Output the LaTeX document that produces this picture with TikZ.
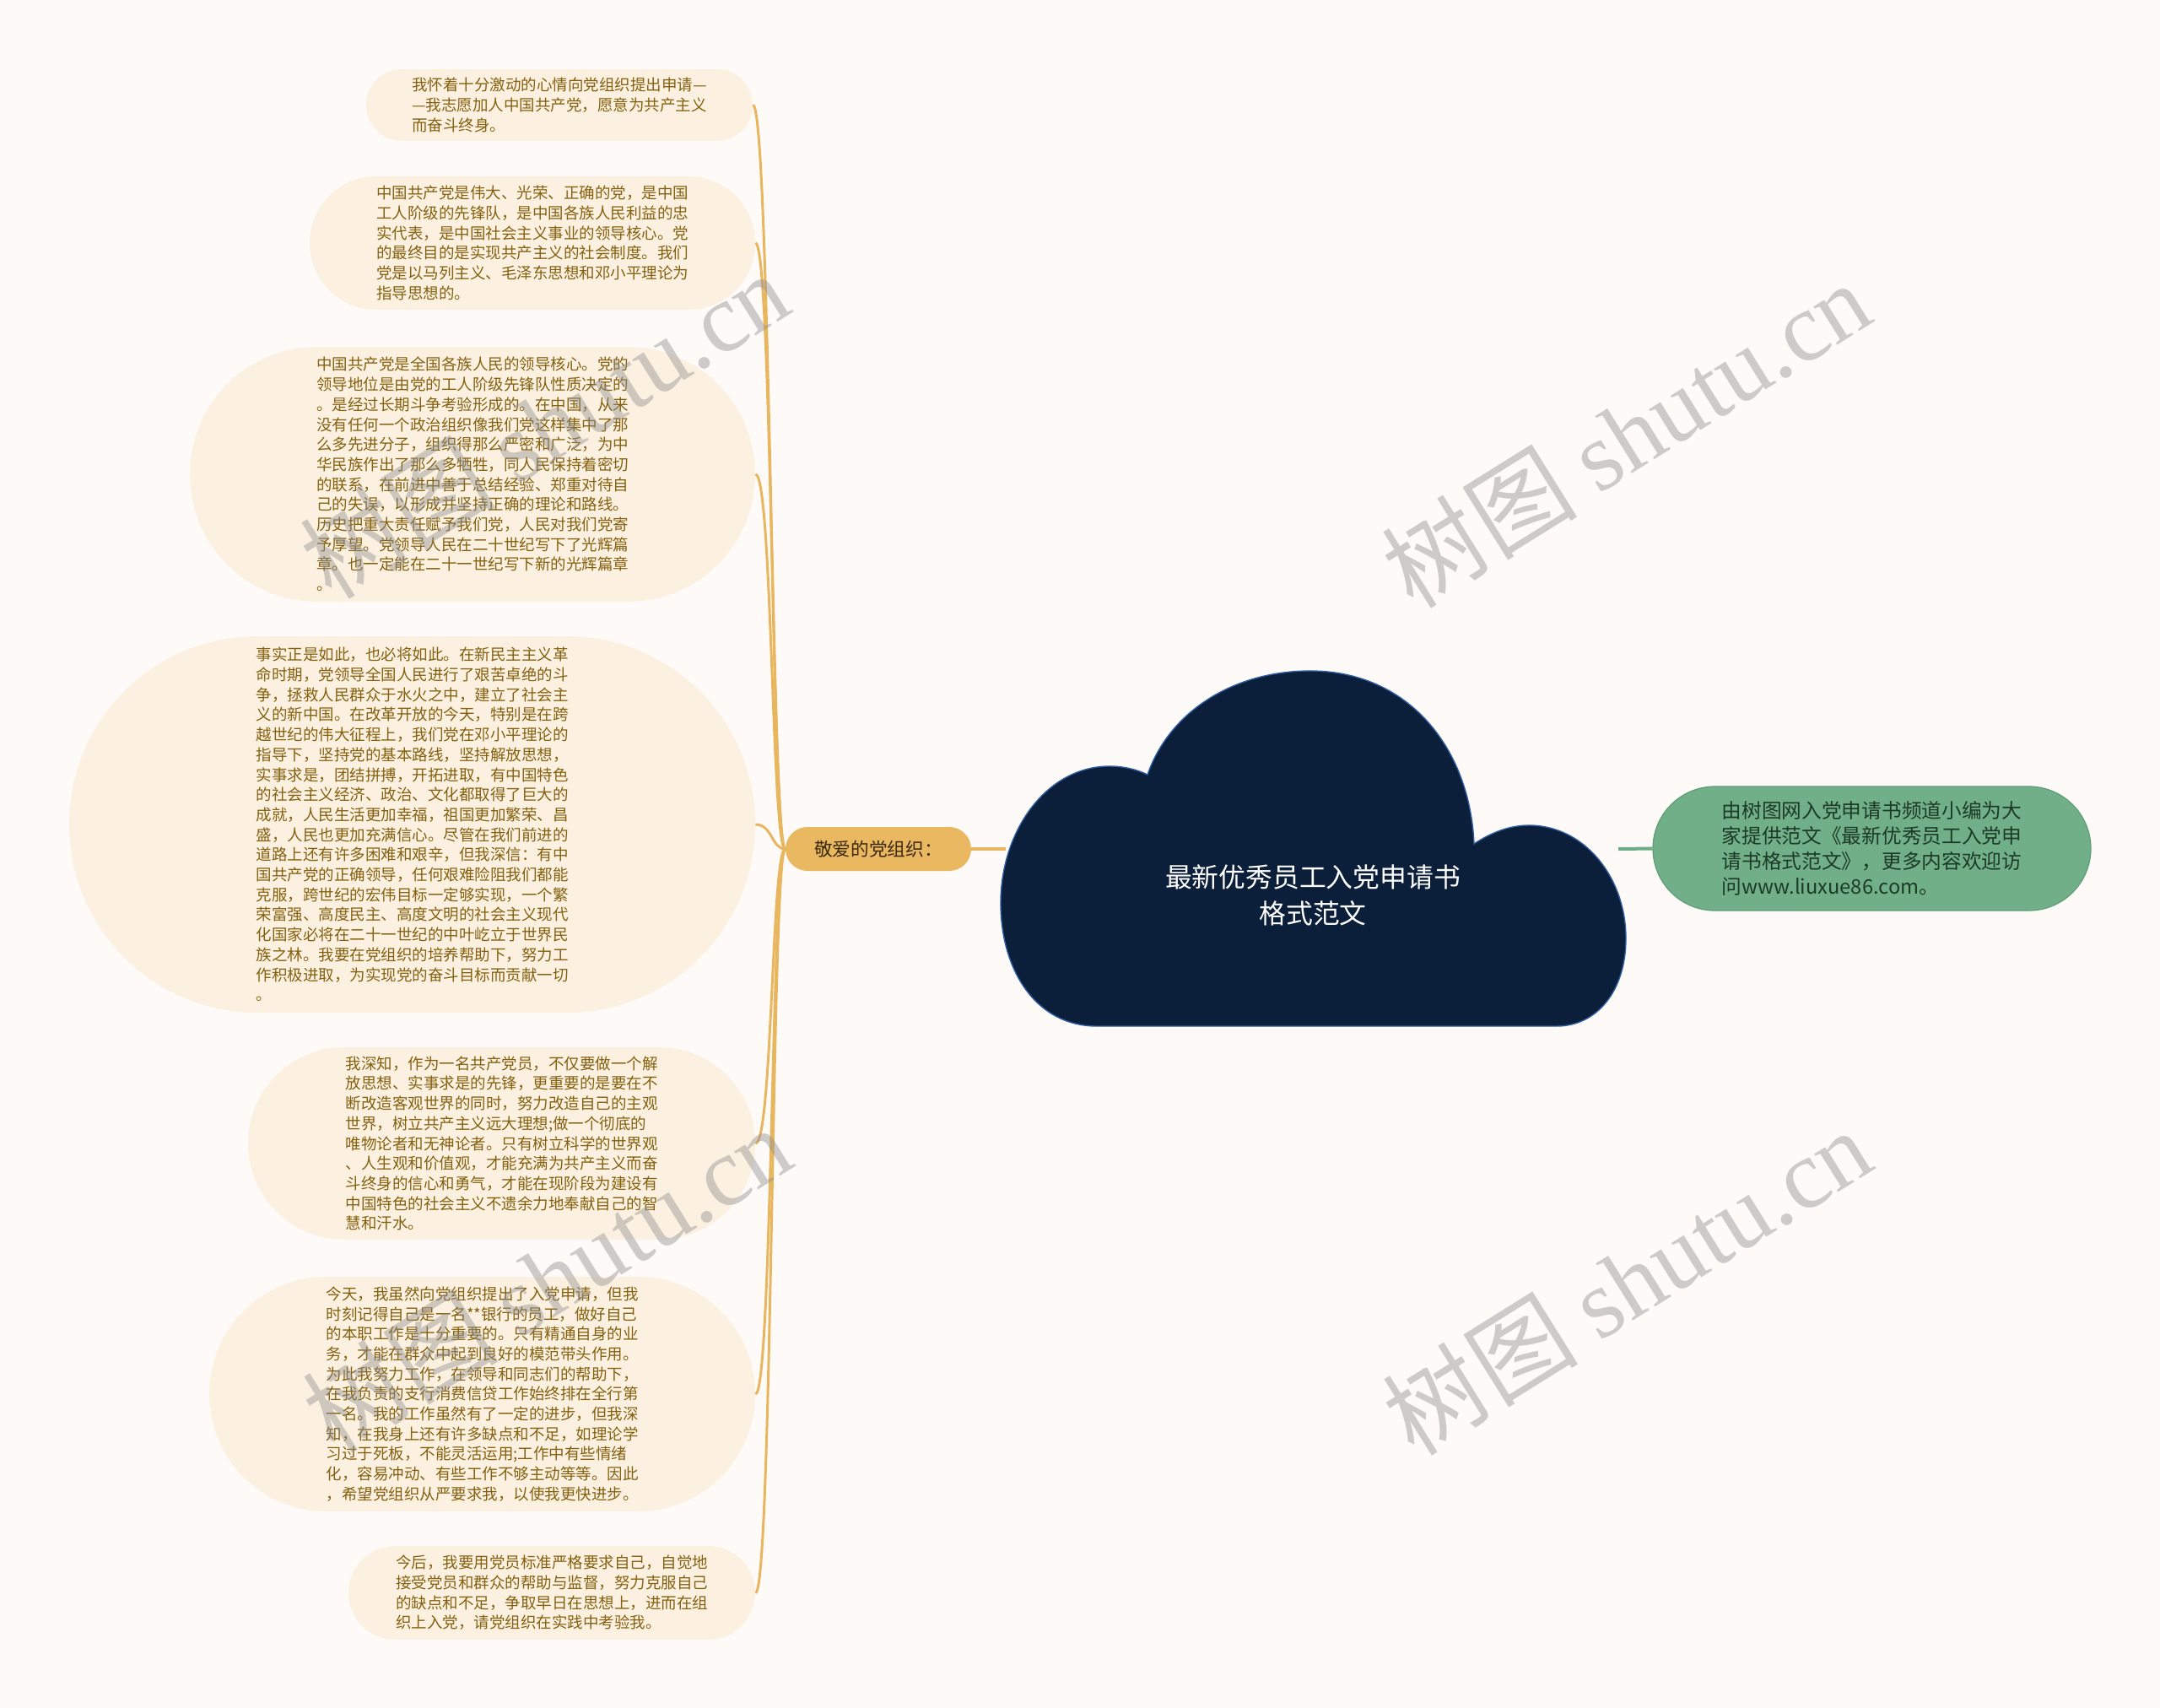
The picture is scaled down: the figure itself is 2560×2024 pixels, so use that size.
\documentclass[tikz,border=0pt]{standalone}
\usepackage{fontspec}
\setmainfont{Noto Sans CJK SC}
\newfontfamily\wmserif{Liberation Serif}
\usetikzlibrary{shapes.misc}
\definecolor{bg}{HTML}{FDFAF8}
\definecolor{leaffill}{HTML}{FCF1E1}
\definecolor{leaftext}{HTML}{84600F}
\definecolor{linkcol}{HTML}{E9B660}
\definecolor{branchfill}{HTML}{EBB862}
\definecolor{branchtext}{HTML}{3A2A0C}
\definecolor{cloudfill}{HTML}{0B1F3B}
\definecolor{cloudedge}{HTML}{2E5C9E}
\definecolor{greenfill}{HTML}{70AF87}
\definecolor{greenedge}{HTML}{5E9E76}
\definecolor{greentext}{HTML}{1D3A27}
\definecolor{greenlink}{HTML}{6EAC84}
\begin{document}
\begin{tikzpicture}[x=0.5pt,y=-0.5pt,
  leaf/.style={rounded rectangle, fill=leaffill, inner xsep=0pt, inner ysep=0pt,
    text=leaftext, align=left, font=\fontsize{9.25pt}{11.85pt}\selectfont},
  branchbox/.style={rounded rectangle, fill=branchfill, inner xsep=0pt, inner ysep=0pt,
    text=branchtext, minimum width=110pt, minimum height=26pt,
    font=\fontsize{10.85pt}{13pt}\selectfont},
  notebox/.style={rounded rectangle, fill=greenfill, draw=greenedge, line width=0.6pt,
    inner xsep=0pt, inner ysep=0pt, text=greentext, align=left,
    minimum width=259.5pt, minimum height=73.5pt,
    font=\fontsize{11.85pt}{15pt}\selectfont},
  titletext/.style={text=white, align=center, inner sep=0pt,
    font=\fontsize{15.9pt}{21.2pt}\selectfont},
  leaflink/.style={draw=linkcol, line width=1.5pt},
  mainlink/.style={draw=linkcol, line width=2pt},
  notelink/.style={draw=greenlink, line width=2pt},
  wmark/.style={text=black!45, text opacity=0.42, inner sep=0pt, rotate=32,
    font=\fontsize{58pt}{58pt}\selectfont}
]
\useasboundingbox (0,0) rectangle (2560,2024);
\fill[bg] (0,0) rectangle (2560,2024);

% leaves
\node[leaf, minimum width=229pt, minimum height=42.5pt] (l1) at (663,124.5)
{我怀着十分激动的心情向党组织提出申请—\\—我志愿加人中国共产党，愿意为共产主义\\而奋斗终身。};

\node[leaf, minimum width=264pt, minimum height=79pt] (l2) at (631,288)
{中国共产党是伟大、光荣、正确的党，是中国\\工人阶级的先锋队，是中国各族人民利益的忠\\实代表，是中国社会主义事业的领导核心。党\\的最终目的是实现共产主义的社会制度。我们\\党是以马列主义、毛泽东思想和邓小平理论为\\指导思想的。};

\node[leaf, minimum width=335pt, minimum height=151pt] (l3) at (560,562)
{中国共产党是全国各族人民的领导核心。党的\\领导地位是由党的工人阶级先锋队性质决定的\\。是经过长期斗争考验形成的。在中国，从来\\没有任何一个政治组织像我们党这样集中了那\\么多先进分子，组织得那么严密和广泛，为中\\华民族作出了那么多牺牲，同人民保持着密切\\的联系，在前进中善于总结经验、郑重对待自\\己的失误，以形成并坚持正确的理论和路线。\\历史把重大责任赋予我们党，人民对我们党寄\\予厚望。党领导人民在二十世纪写下了光辉篇\\章。也一定能在二十一世纪写下新的光辉篇章\\。};

\node[leaf, minimum width=406.5pt, minimum height=223pt] (l4) at (488.5,977)
{事实正是如此，也必将如此。在新民主主义革\\命时期，党领导全国人民进行了艰苦卓绝的斗\\争，拯救人民群众于水火之中，建立了社会主\\义的新中国。在改革开放的今天，特别是在跨\\越世纪的伟大征程上，我们党在邓小平理论的\\指导下，坚持党的基本路线，坚持解放思想，\\实事求是，团结拼搏，开拓进取，有中国特色\\的社会主义经济、政治、文化都取得了巨大的\\成就，人民生活更加幸福，祖国更加繁荣、昌\\盛，人民也更加充满信心。尽管在我们前进的\\道路上还有许多困难和艰辛，但我深信：有中\\国共产党的正确领导，任何艰难险阻我们都能\\克服，跨世纪的宏伟目标一定够实现，一个繁\\荣富强、高度民主、高度文明的社会主义现代\\化国家必将在二十一世纪的中叶屹立于世界民\\族之林。我要在党组织的培养帮助下，努力工\\作积极进取，为实现党的奋斗目标而贡献一切\\。};

\node[leaf, minimum width=300.5pt, minimum height=114pt] (l5) at (594.5,1355)
{我深知，作为一名共产党员，不仅要做一个解\\放思想、实事求是的先锋，更重要的是要在不\\断改造客观世界的同时，努力改造自己的主观\\世界，树立共产主义远大理想;做一个彻底的\\唯物论者和无神论者。只有树立科学的世界观\\、人生观和价值观，才能充满为共产主义而奋\\斗终身的信心和勇气，才能在现阶段为建设有\\中国特色的社会主义不遗余力地奉献自己的智\\慧和汗水。};

\node[leaf, minimum width=323.5pt, minimum height=139pt] (l6) at (571.5,1652)
{今天，我虽然向党组织提出了入党申请，但我\\时刻记得自己是一名**银行的员工，做好自己\\的本职工作是十分重要的。只有精通自身的业\\务，才能在群众中起到良好的模范带头作用。\\为此我努力工作，在领导和同志们的帮助下，\\在我负责的支行消费信贷工作始终排在全行第\\一名。我的工作虽然有了一定的进步，但我深\\知，在我身上还有许多缺点和不足，如理论学\\习过于死板，不能灵活运用;工作中有些情绪\\化，容易冲动、有些工作不够主动等等。因此\\，希望党组织从严要求我，以使我更快进步。};

\node[leaf, minimum width=241pt, minimum height=55.5pt] (l7) at (654,1887.5)
{今后，我要用党员标准严格要求自己，自觉地\\接受党员和群众的帮助与监督，努力克服自己\\的缺点和不足，争取早日在思想上，进而在组\\织上入党，请党组织在实践中考验我。};

% branch and note
\node[branchbox] (branch) at (1041,1006) {敬爱的党组织：};
\node[notebox] (note) at (2218.5,1005.5)
{由树图网入党申请书频道小编为大\\家提供范文《最新优秀员工入党申\\请书格式范文》，更多内容欢迎访\\问www.liuxue86.com。};

\coordinate (cloudL) at (1192,1006);
\coordinate (cloudR) at (1918,1006);

% connectors
\foreach \n in {l1,l2,l3,l4,l5,l6,l7}{
  \path[leaflink] (branch.west) .. controls +(-16,0) and +(20,0) .. (\n.east);
}
\path[mainlink] (cloudL) -- (branch.east);
\path[notelink] (cloudR) -- (note.west);

% cloud
\filldraw[fill=cloudfill, draw=cloudedge, line width=0.7pt] (1300,1216)
 .. controls (1228,1216) and (1186,1150) .. (1186,1070)
 .. controls (1186,985) and (1240,908) .. (1315,908)
 .. controls (1332,908) and (1348,912) .. (1360,918)
 .. controls (1386,843) and (1462,795) .. (1553,795)
 .. controls (1668,795) and (1742,885) .. (1747,1000)
 .. controls (1768,986) and (1790,978) .. (1812,978)
 .. controls (1878,978) and (1927,1040) .. (1927,1112)
 .. controls (1927,1175) and (1892,1216) .. (1845,1216)
 -- cycle;
\node[titletext] (title) at (1556,1061) {最新优秀员工入党申请书\\格式范文};

% watermarks
\node[wmark] (wm1) at (645,503) {树图 {\wmserif shutu.cn}};
\node[wmark] (wm2) at (1927,514) {树图 {\wmserif shutu.cn}};
\node[wmark] (wm3) at (648,1515) {树图 {\wmserif shutu.cn}};
\node[wmark] (wm4) at (1928,1518) {树图 {\wmserif shutu.cn}};
\end{tikzpicture}
\end{document}
